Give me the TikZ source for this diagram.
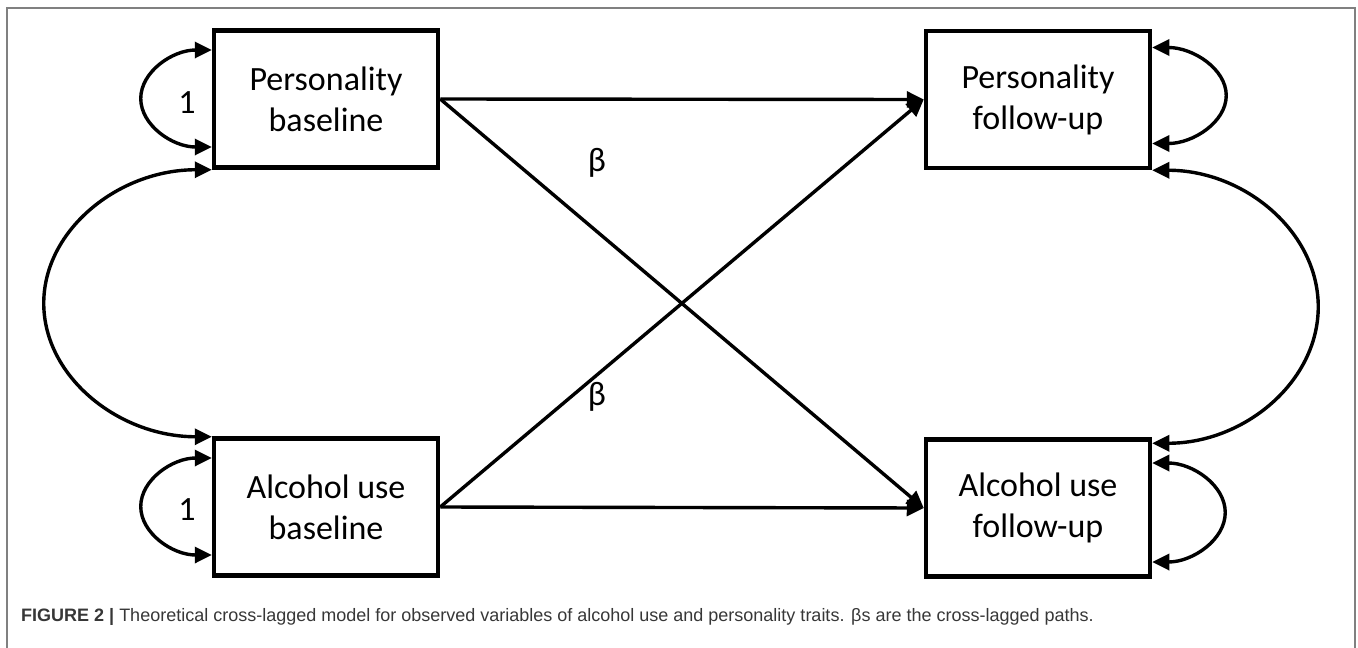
\documentclass[tikz,border=0pt]{standalone}
\usepackage{fontspec}
\setmainfont{Carlito}
\newfontfamily\capfont{Liberation Sans}
\usetikzlibrary{arrows.meta}
\definecolor{framegray}{RGB}{128,128,128}
\definecolor{captext}{RGB}{55,55,55}
\begin{document}
\begin{tikzpicture}[x=1pt,y=-1pt,
  var/.style={draw, line width=4.5pt, minimum width=224pt, minimum height=137pt,
    align=center, font=\fontsize{34}{41}\selectfont, inner sep=0pt},
  path/.style={line width=3.4pt, -{Triangle[length=17pt,width=16pt]}},
  cov/.style={line width=3.4pt, {Triangle[length=17pt,width=16pt]}-{Triangle[length=17pt,width=16pt]}},
  lbl/.style={font=\fontsize{34}{41}\selectfont, inner sep=0pt}]
\useasboundingbox (0,0) rectangle (1358,648);
\draw[framegray, line width=2pt] (7,650) -- (7,8) -- (1355,8) -- (1355,650);

\node[var] (PB) at (326,99) {Personality\\baseline};
\node[var] (AB) at (326,507) {Alcohol use\\baseline};
\node[var] (PF) at (1038,99.5) {Personality\\follow-up};
\node[var] (AF) at (1038,508) {Alcohol use\\follow-up};

% regressions
\draw[path] (PB.east) -- (PF.west);
\draw[path] (AB.east) -- (AF.west);
\draw[path] (PB.east) -- (AF.west);
\draw[path] (AB.east) -- (PF.west);

% variances (self loops)
\draw[cov] ([yshift=49pt]PB.west) arc[start angle=90,end angle=270,x radius=71pt,y radius=48.5pt];
\draw[cov] ([yshift=49pt]AB.west) arc[start angle=90,end angle=270,x radius=71pt,y radius=48.5pt];
\draw[cov] ([yshift=52pt]PF.east) arc[start angle=90,end angle=-90,x radius=74pt,y radius=48pt];
\draw[cov] ([yshift=45pt]AF.east) arc[start angle=90,end angle=-90,x radius=73pt,y radius=49.5pt];

% covariances
\draw[cov] (PB.south west) arc[start angle=90,end angle=270,x radius=168pt,y radius=133.5pt];
\draw[cov] (PF.south east) arc[start angle=90,end angle=-90,x radius=166pt,y radius=136.5pt];

\node[lbl] (one1) at (187,103) {1};
\node[lbl] (one2) at (187,510) {1};
\node[lbl] (b1) at (597,163) {β};
\node[lbl] (b2) at (597,397) {β};

\node[anchor=west, inner sep=0pt, text=captext, font=\capfont\fontsize{18}{21}\selectfont] (cap) at (21,617)
  {\textbf{FIGURE 2 |} Theoretical cross-lagged model for observed variables of alcohol use and personality traits. βs are the cross-lagged paths.};
\end{tikzpicture}
\end{document}
